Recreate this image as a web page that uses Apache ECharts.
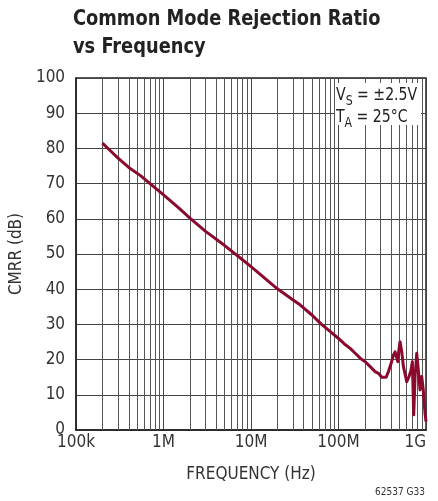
<!DOCTYPE html>
<html>
<head>
<meta charset="utf-8">
<script src="https://cdn.jsdelivr.net/npm/echarts@6/dist/echarts.min.js"></script>
<style>
html,body{margin:0;padding:0;background:#fff;}
#c{width:438px;height:501px;}
</style>
</head>
<body>
<div id="c"></div>
<script>
// ---- data ----
var frequencies = [200e3, 250e3, 300e3, 400e3, 550e3, 700e3, 1e6, 1.5e6, 2e6, 3e6, 5e6, 7.6e6, 10e6, 15e6, 20e6, 30e6, 36.6e6, 50e6, 63.5e6, 80e6, 100e6, 120e6, 136e6, 155e6, 177e6, 202e6, 230e6, 262e6, 286e6, 312e6, 350e6, 372e6, 399e6, 425e6, 444e6, 464e6, 476e6, 490e6, 505e6, 528e6, 552e6, 577e6, 603e6, 640e6, 674e6, 698e6, 724e6, 750e6, 784e6, 817e6, 855e6, 893e6, 931e6, 975e6, 1e9];
var cmrr = [81.5, 79.2, 77.3, 74.6, 72.2, 70.0, 66.8, 63.0, 60.2, 56.5, 52.4, 48.8, 46.4, 42.7, 40.1, 37.0, 35.5, 32.6, 30.1, 28.0, 26.0, 24.2, 23.2, 21.8, 20.4, 19.4, 18.0, 16.6, 16.1, 15.0, 15.0, 16.6, 18.9, 21.3, 22.2, 21.8, 19.4, 22.7, 25.1, 22.2, 18.0, 18.5, 13.7, 15.2, 17.0, 19.4, 4.3, 15.2, 21.8, 17.0, 11.4, 15.2, 11.4, 4.7, 2.4];
var xTickValues = [1e5, 1e6, 1e7, 1e8, 1e9];
var xTickLabels = ['100k', '1M', '10M', '100M', '1G'];
var minorGridFreqs = [];
[1e5, 1e6, 1e7, 1e8].forEach(function (d) { for (var m = 2; m <= 9; m++) minorGridFreqs.push(m * d); });
var titleLines = ['Common Mode Rejection Ratio', 'vs Frequency'];
var xAxisName = 'FREQUENCY (Hz)';
var yAxisName = 'CMRR (dB)';
var footnote = '62537 G33';

var FONT = "'Liberation Sans Narrow', 'DejaVu Sans Condensed', 'Arial Narrow', sans-serif";
var lineData = frequencies.map(function (f, i) { return [f, cmrr[i]]; });

var chart = echarts.init(document.getElementById('c'), null, {renderer: 'canvas'});
chart.setOption({
  animation: false,
  backgroundColor: '#fff',
  textStyle: {fontFamily: FONT},
  grid: {left: 75, right: 12, top: 78, bottom: 71, show: true, borderColor: '#222', borderWidth: 1.5, backgroundColor: 'transparent'},
  xAxis: {
    type: 'log', logBase: 10, min: 1e5, max: 1e9,
    name: xAxisName, nameLocation: 'middle', nameGap: 36,
    nameTextStyle: {fontFamily: FONT, fontSize: 17, color: '#333'},
    axisLine: {show: true, lineStyle: {color: '#222', width: 1.5}},
    axisTick: {show: false},
    axisLabel: {
      fontFamily: FONT, fontSize: 17, color: '#333', margin: 4, alignMaxLabel: 'right',
      formatter: function (v) { var i = xTickValues.indexOf(v); return i >= 0 ? xTickLabels[i] : ''; }
    },
    splitLine: {show: true, lineStyle: {color: '#444', width: 1}}
  },
  yAxis: {
    type: 'value', min: 0, max: 100, interval: 10,
    name: yAxisName, nameLocation: 'middle', nameGap: 42,
    nameTextStyle: {fontFamily: FONT, fontSize: 17, color: '#333'},
    axisLine: {show: true, lineStyle: {color: '#222', width: 1.5}},
    axisTick: {show: false},
    axisLabel: {fontFamily: FONT, fontSize: 17, color: '#333', margin: 11},
    splitLine: {show: true, lineStyle: {color: '#444', width: 1}}
  },
  graphic: [
    {type: 'text', z: 11, x: 73, y: 5, scaleX: 0.9, style: {
      text: titleLines.join('\n'), fontFamily: FONT, fontWeight: 'bold', fontSize: 22, lineHeight: 28, fill: '#222'
    }},
    {type: 'rect', z: 10, shape: {x: 335, y: 83, width: 86, height: 42}, style: {fill: '#fff'}},
    {type: 'text', z: 11, x: 336, y: 86, scaleX: 0.87, style: {
      text: '{a|V}{s|S}{a| = ±2.5V}\n{a|T}{s|A}{a| = 25°C}',
      rich: {
        a: {fontFamily: FONT, fontSize: 18, fill: '#222', lineHeight: 22, verticalAlign: 'top'},
        s: {fontFamily: FONT, fontSize: 14, fill: '#222', lineHeight: 22, verticalAlign: 'bottom', height: 14}
      }
    }},
    {type: 'text', z: 11, right: 13, top: 487, style: {text: footnote, fontFamily: FONT, fontSize: 10, fill: '#333'}}
  ],
  series: [
    {
      type: 'line', data: [], z: 1, silent: true,
      markLine: {
        silent: true, symbol: 'none', label: {show: false}, animation: false,
        lineStyle: {color: '#555', width: 1, type: 'solid'},
        data: minorGridFreqs.map(function (f) { return {xAxis: f}; })
      }
    },
    {
      type: 'line', data: lineData, z: 5, showSymbol: false, symbol: 'none', smooth: false,
      lineStyle: {color: '#8a0a2e', width: 3, join: 'round'}
    }
  ]
});
</script>
</body>
</html>
